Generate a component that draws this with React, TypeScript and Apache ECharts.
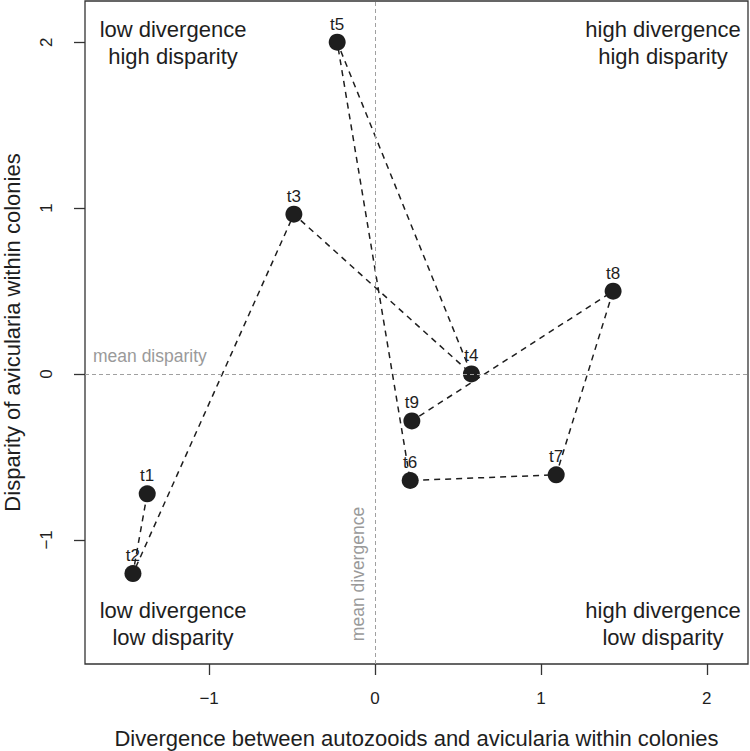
import React, { useEffect, useRef } from "react";
import * as echarts from "echarts";

const pointNames = ["t1", "t2", "t3", "t4", "t5", "t6", "t7", "t8", "t9"];
const divergence = [-1.373, -1.459, -0.489, 0.581, -0.228, 0.212, 1.092, 1.435, 0.222];
const disparity = [-0.722, -1.203, 0.963, 0.0, 2.0, -0.642, -0.608, 0.499, -0.283];
const tickValues = [-1, 0, 1, 2];
const axisMin = -1.748;
const axisMax = 2.248;

const FONT = "'Liberation Sans', Arial, Helvetica, sans-serif";
const INK = "#1e1e1e";

export default function App() {
  const ref = useRef<HTMLDivElement>(null);
  useEffect(() => {
    document.body.style.margin = "0";
    if (!ref.current) return;
    const chart = echarts.init(ref.current, undefined, { renderer: "svg" });
    const pts = divergence.map((x, i) => [x, disparity[i], pointNames[i]]);
    const fmt = (v: number) => String(v).replace("-", "\u2212");
    const quad = (text: string, x: number, y: number) => ({
      type: "text",
      x,
      y,
      style: {
        text,
        fill: INK,
        font: `22px ${FONT}`,
        align: "center",
        verticalAlign: "middle",
        lineHeight: 27,
      },
    });
    chart.setOption({
      animation: false,
      backgroundColor: "#ffffff",
      textStyle: { fontFamily: FONT },
      grid: {
        left: 85,
        top: 1,
        right: 2,
        bottom: 87,
        containLabel: false,
        outerBoundsMode: "none",
        show: true,
        borderColor: "#333",
        borderWidth: 1.3,
        backgroundColor: "transparent",
      },
      xAxis: {
        type: "value",
        min: axisMin,
        max: axisMax,
        name: "Divergence between autozooids and avicularia within colonies",
        nameLocation: "middle",
        nameGap: 63,
        nameTextStyle: { fontSize: 22, color: INK, fontFamily: FONT },
        axisLine: { show: false, onZero: false },
        splitLine: { show: false },
        axisTick: {
          show: true,
          length: 11,
          inside: false,
          customValues: tickValues,
          lineStyle: { color: "#333", width: 1.3 },
        },
        axisLabel: {
          customValues: tickValues,
          formatter: (v: number) => fmt(v),
          fontSize: 17,
          color: INK,
          margin: 26,
          fontFamily: FONT,
        },
      },
      yAxis: {
        type: "value",
        min: axisMin,
        max: axisMax,
        name: "Disparity of avicularia within colonies",
        nameLocation: "middle",
        nameRotate: 90,
        nameGap: 62,
        nameTextStyle: { fontSize: 22, color: INK, fontFamily: FONT },
        axisLine: { show: false, onZero: false },
        splitLine: { show: false },
        axisTick: {
          show: true,
          length: 11,
          inside: false,
          customValues: tickValues,
          lineStyle: { color: "#333", width: 1.3 },
        },
        axisLabel: {
          customValues: tickValues,
          formatter: (v: number) => fmt(v),
          rotate: 90,
          fontSize: 17,
          color: INK,
          margin: 30,
          fontFamily: FONT,
        },
      },
      series: [
        {
          type: "line",
          data: pts,
          symbol: "none",
          lineStyle: { color: INK, width: 1.5, type: [6, 5] },
          z: 2,
          markLine: {
            silent: true,
            symbol: "none",
            label: { show: false },
            lineStyle: { color: "#a0a0a0", width: 1, type: [4, 3] },
            data: [{ xAxis: 0 }, { yAxis: 0 }],
          },
        },
        {
          type: "scatter",
          data: pts,
          symbol: "circle",
          symbolSize: 17,
          itemStyle: { color: INK, opacity: 1 },
          z: 3,
          label: {
            show: true,
            position: "top",
            distance: 1,
            formatter: (p: any) => p.data[2],
            fontSize: 17,
            color: INK,
            fontFamily: FONT,
          },
        },
      ],
      graphic: [
        quad("low divergence\nhigh disparity", 173, 43),
        quad("high divergence\nhigh disparity", 663, 43),
        quad("low divergence\nlow disparity", 173, 624),
        quad("high divergence\nlow disparity", 663, 624),
        {
          type: "text",
          x: 93,
          y: 356,
          style: {
            text: "mean disparity",
            fill: "#9a9a9a",
            font: `17.5px ${FONT}`,
            align: "left",
            verticalAlign: "middle",
          },
        },
        {
          type: "text",
          x: 358,
          y: 574,
          rotation: Math.PI / 2,
          style: {
            text: "mean divergence",
            fill: "#9a9a9a",
            font: `17.5px ${FONT}`,
            align: "center",
            verticalAlign: "middle",
          },
        },
      ],
    });
    return () => chart.dispose();
  }, []);
  return (
    <div
      ref={ref}
      style={{ position: "absolute", left: 0, top: 0, width: 750, height: 751 }}
    />
  );
}
